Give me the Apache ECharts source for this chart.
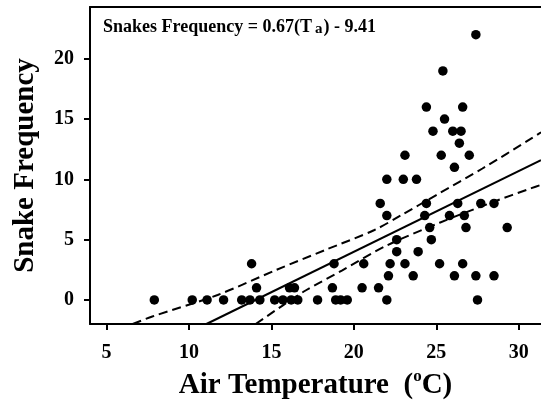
<!DOCTYPE html>
<html>
<head>
<meta charset="utf-8">
<script src="https://cdn.jsdelivr.net/npm/echarts@6/dist/echarts.min.js"></script>
<style>html,body{margin:0;padding:0;background:#fff;}#c{width:541px;height:407px;}</style>
</head>
<body>
<div id="c"></div>
<script>
// Observations: air temperature (°C) and snake frequency
var tempX = [
  7.9, 10.2, 11.1, 12.1, 13.2, 13.7, 14.3, 15.2, 15.7, 16.2, 16.6, 17.8, 18.9, 19.2, 19.6, 22.0, 27.5,
  14.1, 16.1, 16.4, 18.7, 20.5, 21.5,
  22.1, 23.6, 26.1, 27.4, 28.5,
  13.8, 18.8, 20.6, 22.2, 23.1, 25.2, 26.6,
  22.6, 23.9,
  22.6, 24.7,
  24.6, 26.8, 29.3,
  22.0, 24.3, 25.8, 26.7,
  21.6, 24.4, 26.3, 27.7, 28.5,
  22.0, 23.0, 23.8,
  26.1,
  23.1, 25.3, 27.0,
  26.4,
  24.8, 26.0, 26.5,
  25.5,
  24.4, 26.6,
  25.4,
  27.4
];
var freqY = [
  0,0,0,0,0,0,0,0,0,0,0,0,0,0,0,0,0,
  1,1,1,1,1,1,
  2,2,2,2,2,
  3,3,3,3,3,3,3,
  4,4,
  5,5,
  6,6,6,
  7,7,7,7,
  8,8,8,8,8,
  10,10,10,
  11,
  12,12,12,
  13,
  14,14,14,
  15,
  16,16,
  19,
  22
];
// Regression: Snakes Frequency = 0.67(Ta) - 9.41
var slope = 0.67, intercept = -9.41;
// 95% confidence band
var upperX = [6.59, 7.78, 11.74, 15.3, 18.28, 21.25, 22.9, 25.0, 27.8, 30.77, 31.35];
var upperY = [-2.0, -1.38, 0.41, 2.49, 4.15, 5.8, 7.05, 8.7, 10.9, 13.4, 13.9];
var lowerX = [14.05, 15.7, 17.1, 19.3, 21.9, 25.2, 28.4, 30.77, 31.35];
var lowerY = [-2.0, -0.45, 0.8, 2.45, 4.45, 6.4, 8.1, 9.27, 9.55];
var xTicks = [5, 10, 15, 20, 25, 30];
var yTicks = [0, 5, 10, 15, 20];

var X_MIN = 4, X_MAX = 31.35, Y_MIN = -2, Y_MAX = 24.3;

function zip(a, b) { var r = []; for (var i = 0; i < a.length; i++) r.push([a[i], b[i]]); return r; }
var fitStart = (Y_MIN - intercept) / slope;
var fitLine = [[fitStart, Y_MIN], [X_MAX, slope * X_MAX + intercept]];

var serif = '"Liberation Serif","Times New Roman",serif';
var chart = echarts.init(document.getElementById('c'), null, {renderer: 'canvas'});
chart.setOption({
  animation: false,
  backgroundColor: '#fff',
  title: {
    left: 98, top: 13,
    text: '{n|Snakes Frequency = 0.67(T}{s|a}{n|) - 9.41}',
    textStyle: {
      rich: {
        n: {fontFamily: serif, fontWeight: 'bold', fontSize: 18, color: '#000', lineHeight: 19, verticalAlign: 'top'},
        s: {fontFamily: serif, fontWeight: 'bold', fontSize: 15, color: '#000', lineHeight: 15, verticalAlign: 'bottom', padding: [0, 1, 0, 3]}
      }
    }
  },
  grid: {left: 90, top: 7, width: 460, height: 317, containLabel: false},
  xAxis: [{
    type: 'value', min: X_MIN, max: X_MAX, position: 'bottom',
    name: '{t|Air Temperature  (}{o|o}{t|C)}',
    nameLocation: 'middle', nameGap: 44,
    nameTextStyle: {
      rich: {
        t: {fontFamily: serif, fontWeight: 'bold', fontSize: 29, color: '#000', lineHeight: 32, verticalAlign: 'bottom'},
        o: {fontFamily: serif, fontWeight: 'bold', fontSize: 17, color: '#000', lineHeight: 17, verticalAlign: 'top'}
      }
    },
    axisLine: {show: true, onZero: false, lineStyle: {color: '#000', width: 2}},
    axisTick: {show: true, customValues: xTicks, length: 6, lineStyle: {color: '#000', width: 2}},
    axisLabel: {customValues: xTicks, margin: 19, fontFamily: serif, fontWeight: 'bold', fontSize: 20, color: '#000'},
    splitLine: {show: false}
  }, {
    type: 'value', min: X_MIN, max: X_MAX, position: 'top',
    axisLine: {show: true, onZero: false, lineStyle: {color: '#000', width: 2}},
    axisTick: {show: false}, axisLabel: {show: false}, splitLine: {show: false}
  }],
  yAxis: {
    type: 'value', min: Y_MIN, max: Y_MAX,
    name: 'Snake Frequency', nameLocation: 'middle', nameGap: 50,
    nameTextStyle: {fontFamily: serif, fontWeight: 'bold', fontSize: 29, color: '#000'},
    axisLine: {show: true, onZero: false, lineStyle: {color: '#000', width: 2}},
    axisTick: {show: true, customValues: yTicks, length: 6, lineStyle: {color: '#000', width: 2}},
    axisLabel: {customValues: yTicks, margin: 16, fontFamily: serif, fontWeight: 'bold', fontSize: 20, color: '#000'},
    splitLine: {show: false}
  },
  series: [{
    type: 'line', data: zip(upperX, upperY), smooth: 0.3, showSymbol: false, clip: true,
    lineStyle: {color: '#000', width: 2, type: [9, 5]}, silent: true
  }, {
    type: 'line', data: zip(lowerX, lowerY), smooth: 0.3, showSymbol: false, clip: true,
    lineStyle: {color: '#000', width: 2, type: [9, 5]}, silent: true
  }, {
    type: 'line', data: fitLine, showSymbol: false, clip: true,
    lineStyle: {color: '#000', width: 2}, silent: true
  }, {
    type: 'scatter', data: zip(tempX, freqY), symbol: 'circle', symbolSize: 9.5,
    itemStyle: {color: '#000', opacity: 1}, silent: true
  }]
});
</script>
</body>
</html>
